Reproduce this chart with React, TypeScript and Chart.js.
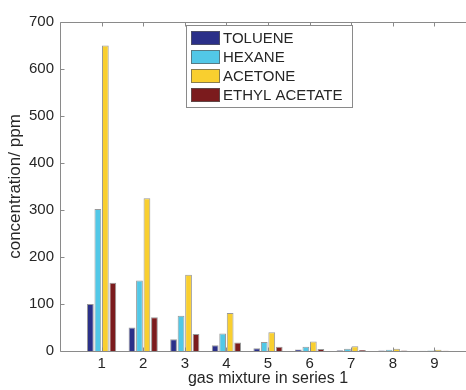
import React, { useEffect, useRef } from "react";
import { Chart, registerables } from "chart.js";

Chart.register(...registerables);

const categories = ["1", "2", "3", "4", "5", "6", "7", "8", "9"];
const seriesNames = ["TOLUENE", "HEXANE", "ACETONE", "ETHYL ACETATE"];
const toluene = [100, 50, 25, 12, 6, 3, 1.5, 0.8, 0.4];
const hexane = [302, 150, 75, 37, 19, 9, 5, 2.5, 1.2];
const acetone = [650, 325, 162, 81, 40, 20, 10, 5, 2.5];
const ethylAcetate = [145, 72, 36, 18, 9, 4.5, 2.3, 1.1, 0.6];
const seriesColors = ["#2b3089", "#52c8e7", "#f9cf2f", "#7b1b1d"];
const yTickValues = [0, 100, 200, 300, 400, 500, 600, 700];

const FONT = "'Liberation Sans', Arial, Helvetica, sans-serif";
const TEXT = "#262626";
const AXIS = "#8a8a8a";

const pad = (arr: number[]) => [null, ...arr, null];

const framePlugin = {
  id: "matlabFrame",
  afterDatasetsDraw(chart: any) {
    const { ctx, chartArea: a, scales } = chart;
    const xs = scales.x;
    const ys = scales.y;
    ctx.save();
    ctx.strokeStyle = AXIS;
    ctx.lineWidth = 1;
    const L = Math.round(a.left) + 0.5;
    const R = Math.round(a.right) - 0.5;
    const T = Math.round(a.top) + 0.5;
    const B = Math.round(a.bottom) + 0.5;
    ctx.beginPath();
    ctx.rect(L, T, R - L, B - T);
    ctx.stroke();
    const tl = 4;
    ctx.beginPath();
    for (const v of yTickValues) {
      const py = Math.round(ys.getPixelForValue(v)) + 0.5;
      ctx.moveTo(L, py);
      ctx.lineTo(L + tl, py);
      ctx.moveTo(R, py);
      ctx.lineTo(R - tl, py);
    }
    for (let i = 1; i <= categories.length; i++) {
      const px = Math.round(xs.getPixelForValue(i)) + 0.5;
      ctx.moveTo(px, T);
      ctx.lineTo(px, T + tl);
      ctx.moveTo(px, B);
      ctx.lineTo(px, B - tl);
    }
    ctx.stroke();
    ctx.restore();
  },
  afterDraw(chart: any) {
    const { ctx } = chart;
    const bx = 186.5, by = 25.5, bw = 166, bh = 82;
    ctx.save();
    ctx.fillStyle = "#ffffff";
    ctx.fillRect(bx, by, bw, bh);
    ctx.strokeStyle = AXIS;
    ctx.lineWidth = 1;
    ctx.strokeRect(bx, by, bw, bh);
    ctx.font = `15px ${FONT}`;
    ctx.textBaseline = "middle";
    ctx.textAlign = "left";
    chart.data.datasets.forEach((ds: any, i: number) => {
      const top = 31 + i * 19;
      ctx.fillStyle = ds.backgroundColor;
      ctx.fillRect(191, top, 29, 14);
      ctx.strokeStyle = "rgba(90,90,90,0.7)";
      ctx.strokeRect(191.5, top + 0.5, 28, 13);
      ctx.fillStyle = TEXT;
      ctx.fillText(ds.label, 223, top + 7.5);
    });
    ctx.restore();
  },
};

export default function App() {
  const ref = useRef<HTMLCanvasElement>(null);
  useEffect(() => {
    const data = [toluene, hexane, acetone, ethylAcetate];
    const chart = new Chart(ref.current as HTMLCanvasElement, {
      type: "bar",
      data: {
        labels: ["", ...categories, ""],
        datasets: data.map((d, i) => ({
          label: seriesNames[i],
          data: pad(d) as any,
          backgroundColor: seriesColors[i],
          borderColor: "rgba(70,70,70,0.55)",
          borderWidth: 1,
          categoryPercentage: 0.72,
          barPercentage: 0.9,
        })),
      },
      options: {
        responsive: false,
        animation: false,
        layout: { padding: { top: 22, right: 14, left: 0, bottom: 0 } },
        plugins: {
          legend: { display: false },
          tooltip: { enabled: false },
        },
        scales: {
          x: {
            type: "category",
            offset: false,
            grid: { display: false, drawTicks: false },
            border: { display: false },
            ticks: {
              font: { family: FONT, size: 15 },
              color: TEXT,
              padding: 4,
              maxRotation: 0,
              autoSkip: false,
            },
            title: {
              display: true,
              text: "gas mixture in series 1",
              font: { family: FONT, size: 16 },
              color: TEXT,
              padding: { top: 0, bottom: 2 },
            },
            afterFit: (s: any) => {
              s.height = 39;
            },
          },
          y: {
            min: 0,
            max: 700,
            grid: { display: false, drawTicks: false },
            border: { display: false },
            ticks: {
              stepSize: 100,
              font: { family: FONT, size: 15 },
              color: TEXT,
              padding: 6,
            },
            title: {
              display: true,
              text: "concentration/ ppm",
              font: { family: FONT, size: 17 },
              color: TEXT,
              padding: { top: 5, bottom: 0 },
            },
            afterFit: (s: any) => {
              s.width = 60;
            },
          },
        },
      },
      plugins: [framePlugin],
    });
    return () => chart.destroy();
  }, []);
  return (
    <div
      style={{
        position: "fixed",
        left: 0,
        top: 0,
        width: 466,
        height: 390,
        overflow: "hidden",
        background: "#fff",
      }}
    >
      <canvas ref={ref} width={490} height={390} style={{ display: "block" }} />
    </div>
  );
}
